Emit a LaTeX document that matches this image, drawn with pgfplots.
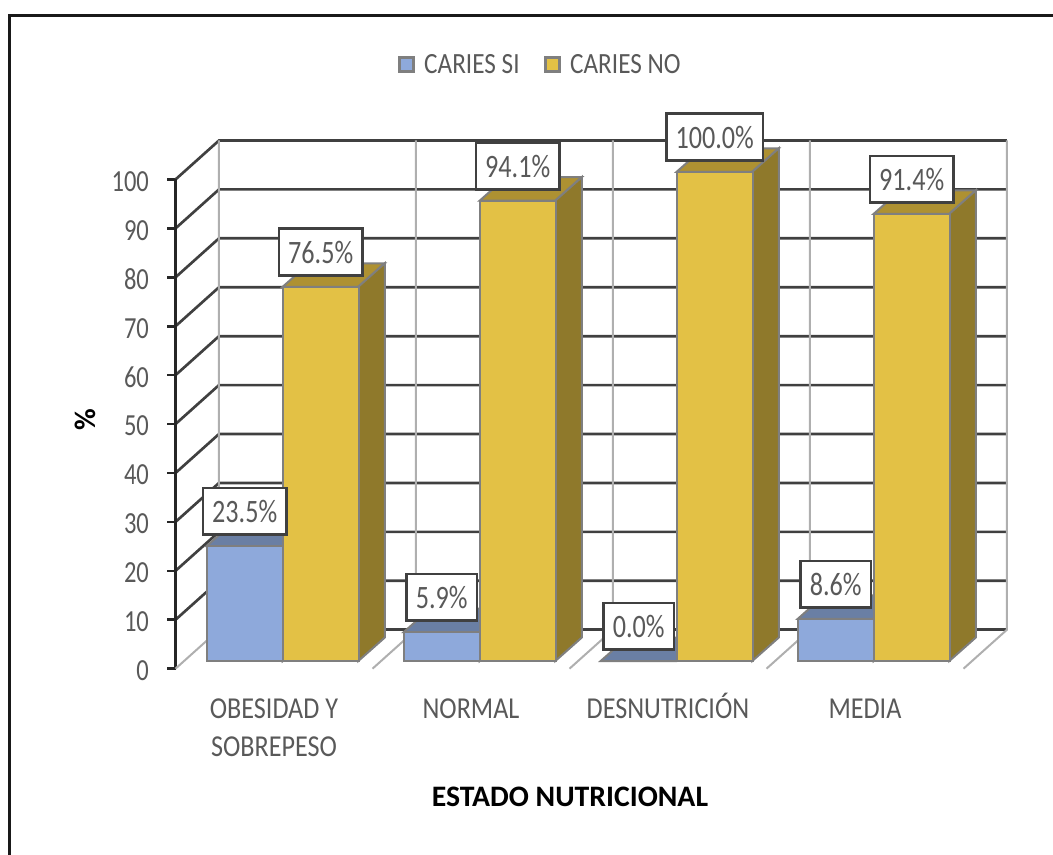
\documentclass[border=0pt]{standalone}
\usepackage{pgfplots}
\usepackage{pgfplotstable}
\usepackage{fontspec}
\pgfplotsset{compat=1.18}
\setmainfont[FakeStretch=0.80]{Carlito}
\newfontfamily\xf[FakeStretch=0.86]{Carlito}
\newfontfamily\boldf[FakeStretch=1.0]{Carlito Bold}
\definecolor{cblue}{HTML}{8EA9DB}
\definecolor{cbluetop}{HTML}{6A7FA4}
\definecolor{cyel}{HTML}{E3C145}
\definecolor{cyeltop}{HTML}{AE9132}
\definecolor{cyelside}{HTML}{8F792B}
\definecolor{cedge}{HTML}{7F7F7F}
\definecolor{cgrid}{HTML}{404040}
\definecolor{cvert}{HTML}{AFAFAF}
\definecolor{ctxt}{HTML}{595959}
\pgfplotstableread{
blue  yel   si    no
0.3513 0.7371 23.5 76.5
1.3513 1.7371 5.9  94.1
2.3513 2.7371 0.0  100.0
3.3513 3.7371 8.6  91.4
}\datatab
% 3D faces of a bar: x0, x1, value, colour of top, colour of side
\newcommand\barfaces[5]{%
  \pgfmathsetmacro\xa{#1+0.1345}\pgfmathsetmacro\xb{#2+0.1345}\pgfmathsetmacro\vt{#3+4.8}%
  \addplot[fill=#4,draw=cedge,line width=1.5pt,forget plot] coordinates {(#1,#3) (#2,#3) (\xb,\vt) (\xa,\vt)} --cycle;
  \addplot[fill=#5,draw=cedge,line width=1.5pt,forget plot] coordinates {(#2,0) (\xb,4.8) (\xb,\vt) (#2,#3)} --cycle;
}
\newcommand\hgrid[2]{\addplot[cgrid,line width=2pt,forget plot] coordinates {(0,#1) (0.2208,#2) (4.2208,#2)};}
\newcommand\vgrid[1]{%
  \pgfmathsetmacro\xa{#1+0.2208}%
  \addplot[cvert,line width=1.5pt,forget plot] coordinates {(#1,-1.57) (\xa,6.4) (\xa,106.4)};}
\newcommand\st{\rule{0pt}{20pt}}
\pgfplotsset{sq/.style={legend image code/.code={%
     \draw[##1,line width=2.2pt] (0pt,-5.25pt) rectangle (10.5pt,5.25pt);
     \path[draw=none,fill=none] (0pt,0pt) rectangle (16.8pt,0.1pt);}}}
\begin{document}
\begin{tikzpicture}[x=1pt,y=1pt]
\path[use as bounding box] (0,0) rectangle (789.75pt,641.25pt);
\draw[color=black!90,line width=2.3pt] (7.1pt,0pt) -- (7.1pt,629.6pt) -- (789.75pt,629.6pt);
\begin{axis}[
  at={(131.625pt,139.725pt)}, anchor=south west,
  scale only axis, width=623.6pt, height=396.15pt,
  xmin=0, xmax=4.2208, ymin=-1.57, ymax=106.4,
  clip=false,
  /pgf/number format/assume math mode=true,
  axis x line=bottom, axis y line=left,
  x axis line style={draw=none}, y axis line style={draw=none},
  xtick={0.5,1.5,2.5,3.5},
  xticklabels={{\st OBESIDAD Y\\SOBREPESO},{\st NORMAL},{\st DESNUTRICIÓN},{\st MEDIA}},
  xtick style={draw=none},
  xticklabel style={align=center,font=\xf\fontsize{22.8}{28}\selectfont,text=ctxt,anchor=north,inner sep=0pt,yshift=-11.3pt},
  ytick={-1.57,8.43,18.43,28.43,38.43,48.43,58.43,68.43,78.43,88.43,98.43},
  yticklabels={0,10,20,30,40,50,60,70,80,90,100},
  ytick style={draw=black!85,line width=2pt},
  tick align=outside, major tick length=6pt,
  yticklabel style={font=\fontsize{23}{27}\selectfont,text=ctxt,anchor=east,inner sep=0pt,xshift=-13.75pt,yshift=-1.5pt},
  xlabel={\boldf\fontsize{22.3}{26}\selectfont ESTADO NUTRICIONAL},
  xlabel style={at={(rel axis cs:0.4744,-0.2429)},anchor=center},
  ylabel={\boldf\fontsize{22.3}{26}\selectfont \%},
  ylabel style={at={(rel axis cs:-0.1088,0.4709)},anchor=center},
  legend columns=2,
  legend style={at={(rel axis cs:0.439,1.143)},anchor=center,draw=none,fill=none,
     font=\xf\fontsize{22}{26}\selectfont,text=ctxt,
     /tikz/every even column/.append style={column sep=16pt}},
]
% walls
\addplot[cgrid,line width=2pt,forget plot] coordinates {(0.2208,6.4) (4.2208,6.4)};
\hgrid{8.43}{16.4}\hgrid{18.43}{26.4}\hgrid{28.43}{36.4}\hgrid{38.43}{46.4}\hgrid{48.43}{56.4}
\hgrid{58.43}{66.4}\hgrid{68.43}{76.4}\hgrid{78.43}{86.4}\hgrid{88.43}{96.4}\hgrid{98.43}{106.4}
\addplot[black!85,line width=2pt,forget plot] coordinates {(0,-1.57) (0,98.43)};
\addplot[cvert,line width=1.5pt,forget plot] coordinates {(0,-1.57) (0.2208,6.4) (0.2208,106.4)};
\vgrid{1}\vgrid{2}\vgrid{3}\vgrid{4}
% bars: tops and sides
\barfaces{0.1584}{0.5442}{23.5}{cbluetop}{cbluetop}
\barfaces{0.5442}{0.9279}{76.5}{cyeltop}{cyelside}
\barfaces{1.1584}{1.5442}{5.9}{cbluetop}{cbluetop}
\barfaces{1.5442}{1.9279}{94.1}{cyeltop}{cyelside}
\barfaces{2.1584}{2.5442}{0.0}{cbluetop}{cbluetop}
\barfaces{2.5442}{2.9279}{100.0}{cyeltop}{cyelside}
\barfaces{3.1584}{3.5442}{8.6}{cbluetop}{cbluetop}
\barfaces{3.5442}{3.9279}{91.4}{cyeltop}{cyelside}
% front faces
\addplot[ybar,bar width=0.3858,bar shift=0pt,fill=cblue,draw=cedge,line width=1.5pt,sq] table[x=blue,y=si] {\datatab};
\addlegendentry{CARIES SI}
\addplot[ybar,bar width=0.3858,bar shift=0pt,fill=cyel,draw=cedge,line width=1.5pt,sq] table[x=yel,y=no] {\datatab};
\addlegendentry{CARIES NO}
% data labels
\pgfplotsset{lab/.style={draw=none,mark=none,forget plot,
  nodes near coords={\pgfmathprintnumber[fixed,fixed zerofill,precision=1,assume math mode=true]{\pgfplotspointmeta}\%},
  nodes near coords style={anchor=center,yshift=26pt,fill=white,draw=cgrid,line width=2pt,text=ctxt,
     font=\fontsize{24.5}{28}\selectfont,minimum height=35pt,inner xsep=7pt,inner ysep=0pt}}}
\addplot[lab] table[x=blue,y=si] {\datatab};
\addplot[lab] table[x=yel,y=no] {\datatab};
\end{axis}
\end{tikzpicture}
\end{document}
